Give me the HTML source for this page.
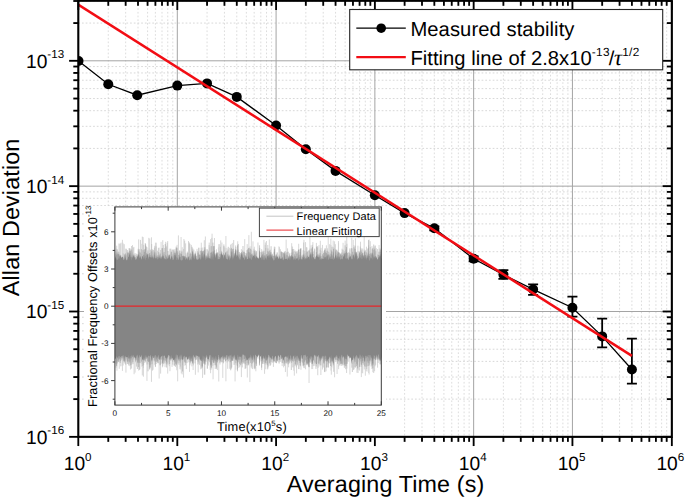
<!DOCTYPE html>
<html><head><meta charset="utf-8"><title>Allan Deviation</title>
<style>html,body{margin:0;padding:0;background:#fff;overflow:hidden}svg{display:block}text{font-family:"Liberation Sans",sans-serif;fill:#000;text-rendering:geometricPrecision}</style>
</head><body>
<svg width="685" height="498" viewBox="0 0 685 498">
<rect x="0" y="0" width="685" height="498" fill="#fff"/>
<g stroke="#d9d9d9" stroke-width="0.9" stroke-dasharray="1.7 2.0" fill="none">
<line x1="108.27" y1="0.8" x2="108.27" y2="436.85"/>
<line x1="125.66" y1="0.8" x2="125.66" y2="436.85"/>
<line x1="138.00" y1="0.8" x2="138.00" y2="436.85"/>
<line x1="147.57" y1="0.8" x2="147.57" y2="436.85"/>
<line x1="155.40" y1="0.8" x2="155.40" y2="436.85"/>
<line x1="162.01" y1="0.8" x2="162.01" y2="436.85"/>
<line x1="167.74" y1="0.8" x2="167.74" y2="436.85"/>
<line x1="172.79" y1="0.8" x2="172.79" y2="436.85"/>
<line x1="207.05" y1="0.8" x2="207.05" y2="436.85"/>
<line x1="224.44" y1="0.8" x2="224.44" y2="436.85"/>
<line x1="236.78" y1="0.8" x2="236.78" y2="436.85"/>
<line x1="246.35" y1="0.8" x2="246.35" y2="436.85"/>
<line x1="254.18" y1="0.8" x2="254.18" y2="436.85"/>
<line x1="260.79" y1="0.8" x2="260.79" y2="436.85"/>
<line x1="266.52" y1="0.8" x2="266.52" y2="436.85"/>
<line x1="271.57" y1="0.8" x2="271.57" y2="436.85"/>
<line x1="305.83" y1="0.8" x2="305.83" y2="436.85"/>
<line x1="323.22" y1="0.8" x2="323.22" y2="436.85"/>
<line x1="335.56" y1="0.8" x2="335.56" y2="436.85"/>
<line x1="345.13" y1="0.8" x2="345.13" y2="436.85"/>
<line x1="352.96" y1="0.8" x2="352.96" y2="436.85"/>
<line x1="359.57" y1="0.8" x2="359.57" y2="436.85"/>
<line x1="365.30" y1="0.8" x2="365.30" y2="436.85"/>
<line x1="370.35" y1="0.8" x2="370.35" y2="436.85"/>
<line x1="404.61" y1="0.8" x2="404.61" y2="436.85"/>
<line x1="422.00" y1="0.8" x2="422.00" y2="436.85"/>
<line x1="434.34" y1="0.8" x2="434.34" y2="436.85"/>
<line x1="443.91" y1="0.8" x2="443.91" y2="436.85"/>
<line x1="451.74" y1="0.8" x2="451.74" y2="436.85"/>
<line x1="458.35" y1="0.8" x2="458.35" y2="436.85"/>
<line x1="464.08" y1="0.8" x2="464.08" y2="436.85"/>
<line x1="469.13" y1="0.8" x2="469.13" y2="436.85"/>
<line x1="503.39" y1="0.8" x2="503.39" y2="436.85"/>
<line x1="520.78" y1="0.8" x2="520.78" y2="436.85"/>
<line x1="533.12" y1="0.8" x2="533.12" y2="436.85"/>
<line x1="542.69" y1="0.8" x2="542.69" y2="436.85"/>
<line x1="550.52" y1="0.8" x2="550.52" y2="436.85"/>
<line x1="557.13" y1="0.8" x2="557.13" y2="436.85"/>
<line x1="562.86" y1="0.8" x2="562.86" y2="436.85"/>
<line x1="567.91" y1="0.8" x2="567.91" y2="436.85"/>
<line x1="602.17" y1="0.8" x2="602.17" y2="436.85"/>
<line x1="619.56" y1="0.8" x2="619.56" y2="436.85"/>
<line x1="631.90" y1="0.8" x2="631.90" y2="436.85"/>
<line x1="641.47" y1="0.8" x2="641.47" y2="436.85"/>
<line x1="649.30" y1="0.8" x2="649.30" y2="436.85"/>
<line x1="655.91" y1="0.8" x2="655.91" y2="436.85"/>
<line x1="661.64" y1="0.8" x2="661.64" y2="436.85"/>
<line x1="666.69" y1="0.8" x2="666.69" y2="436.85"/>
</g>
<g stroke="#d4d4d4" stroke-width="0.9" stroke-dasharray="1.7 2.0" fill="none">
<line x1="78.3" y1="399.12" x2="671.85" y2="399.12"/>
<line x1="78.3" y1="377.04" x2="671.85" y2="377.04"/>
<line x1="78.3" y1="361.38" x2="671.85" y2="361.38"/>
<line x1="78.3" y1="349.23" x2="671.85" y2="349.23"/>
<line x1="78.3" y1="339.31" x2="671.85" y2="339.31"/>
<line x1="78.3" y1="330.92" x2="671.85" y2="330.92"/>
<line x1="78.3" y1="323.65" x2="671.85" y2="323.65"/>
<line x1="78.3" y1="317.24" x2="671.85" y2="317.24"/>
<line x1="78.3" y1="273.77" x2="671.85" y2="273.77"/>
<line x1="78.3" y1="251.69" x2="671.85" y2="251.69"/>
<line x1="78.3" y1="236.03" x2="671.85" y2="236.03"/>
<line x1="78.3" y1="223.88" x2="671.85" y2="223.88"/>
<line x1="78.3" y1="213.96" x2="671.85" y2="213.96"/>
<line x1="78.3" y1="205.57" x2="671.85" y2="205.57"/>
<line x1="78.3" y1="198.30" x2="671.85" y2="198.30"/>
<line x1="78.3" y1="191.89" x2="671.85" y2="191.89"/>
<line x1="78.3" y1="148.42" x2="671.85" y2="148.42"/>
<line x1="78.3" y1="126.34" x2="671.85" y2="126.34"/>
<line x1="78.3" y1="110.68" x2="671.85" y2="110.68"/>
<line x1="78.3" y1="98.53" x2="671.85" y2="98.53"/>
<line x1="78.3" y1="88.61" x2="671.85" y2="88.61"/>
<line x1="78.3" y1="80.22" x2="671.85" y2="80.22"/>
<line x1="78.3" y1="72.95" x2="671.85" y2="72.95"/>
<line x1="78.3" y1="66.54" x2="671.85" y2="66.54"/>
<line x1="78.3" y1="23.07" x2="671.85" y2="23.07"/>
<line x1="78.3" y1="0.99" x2="671.85" y2="0.99"/>
</g>
<g stroke="#a4a4a4" stroke-width="1" fill="none">
<line x1="177.31" y1="0.8" x2="177.31" y2="436.85"/>
<line x1="276.09" y1="0.8" x2="276.09" y2="436.85"/>
<line x1="374.87" y1="0.8" x2="374.87" y2="436.85"/>
<line x1="473.65" y1="0.8" x2="473.65" y2="436.85"/>
<line x1="572.43" y1="0.8" x2="572.43" y2="436.85"/>
<line x1="78.3" y1="311.50" x2="671.85" y2="311.50"/>
<line x1="78.3" y1="186.15" x2="671.85" y2="186.15"/>
<line x1="78.3" y1="60.80" x2="671.85" y2="60.80"/>
</g>
<rect x="84" y="206.3" width="302" height="230" fill="#fff"/>
<path stroke="#d4d4d4" stroke-width="0.9" fill="none" d="M201.31 242.7V368.6M130.70 254.0V358.8M228.05 254.4V361.9M367.01 248.3V371.6M192.22 253.7V361.3M163.30 245.0V364.2M131.98 250.7V360.0M198.74 247.8V362.9M300.95 256.1V369.8M309.04 250.5V383.0M316.40 242.9V366.5M267.50 250.9V363.3M269.32 239.5V362.5M291.70 243.2V363.0M333.60 254.6V371.8M159.93 254.2V359.8M181.07 237.0V369.6M349.93 248.8V374.5M210.59 239.1V373.2M176.91 255.5V368.3M116.39 248.8V362.0M298.70 243.8V369.0M322.46 244.9V369.5M142.80 252.1V360.2M205.62 256.4V357.7M211.87 237.9V360.7M182.30 251.5V364.9M379.07 245.0V359.9M185.62 243.4V362.5M154.24 254.5V358.2M344.60 254.2V364.5M320.33 240.8V360.9M330.84 238.5V359.4M311.81 255.0V369.1M189.51 255.8V371.9M364.17 233.5V359.4M175.55 254.5V363.6M338.52 243.2V366.8M356.94 253.5V372.8M324.89 248.3V372.2M221.91 242.5V362.6M155.45 242.7V367.1M375.67 251.8V364.9M119.08 243.4V360.1M230.52 244.6V370.2M193.11 255.9V370.0M150.11 249.3V362.3M355.48 238.3V367.6M254.34 246.7V367.8M161.08 241.9V360.1M252.97 241.3V363.2M181.30 253.9V373.4M317.15 248.0V362.9M251.33 253.0V367.2M365.36 250.6V375.7M263.91 239.9V363.9M232.73 242.9V360.7M353.55 248.3V369.8M349.78 250.2V359.0M244.72 239.1V358.8M252.24 253.3V362.9M120.47 243.5V361.0M251.36 231.8V368.3M143.13 256.3V360.3M149.71 238.5V367.3M154.97 246.0V364.2M298.09 253.4V359.3M328.21 231.1V366.9M205.38 236.5V364.6M255.25 256.3V364.4M198.17 251.3V372.4M162.55 255.6V367.3M261.66 252.7V367.5M332.81 246.7V362.2M249.88 246.5V382.1M303.01 250.4V366.3M134.08 256.2V374.2M346.51 253.0V364.3M237.33 251.1V366.1M373.63 249.9V359.7M210.01 247.5V357.7M168.68 255.7V362.1M126.37 248.8V358.8M255.85 256.6V371.3M218.76 244.2V381.5M286.14 239.6V362.5M310.21 254.7V362.4M337.06 250.7V374.0M296.68 252.8V364.0M143.17 250.5V367.9M296.08 255.8V357.7M248.89 235.1V360.7M135.07 255.1V372.6M374.46 247.5V358.0M319.01 245.1V366.6M312.70 251.9V369.0M293.78 251.6V370.7M238.71 252.0V358.6M375.09 255.0V358.3M372.43 249.6V360.0M171.26 252.1V360.2M150.52 251.9V367.7M176.76 248.0V364.1M235.02 255.0V362.5M338.47 241.1V357.8M361.35 252.0V377.1M219.65 244.2V357.8M188.38 252.5V358.9M363.79 256.6V365.0M214.46 238.0V362.9M357.91 245.7V370.1M235.05 256.4V381.4M149.11 248.2V359.1M374.60 255.7V371.2M220.04 253.9V362.5M247.32 252.8V377.5M152.38 255.2V364.1M183.92 239.0V365.9M225.23 247.7V362.1M372.32 248.9V365.5M172.66 255.7V364.6M368.67 245.3V373.0M353.20 240.0V359.7M334.58 241.3V377.3M156.30 242.7V359.6M287.24 255.6V376.6M177.07 244.9V364.1M182.18 247.2V374.4M270.12 251.6V365.3M237.66 243.7V361.1M177.65 256.2V381.3M121.09 242.7V357.8M292.55 246.9V360.7M296.59 251.3V373.4M169.81 248.7V359.2M174.12 256.1V365.4M165.05 255.0V367.2M154.18 251.6V361.7M129.07 248.0V361.1M309.91 235.1V358.0M363.87 256.5V360.0M214.60 250.7V362.6M369.08 239.5V374.5M333.51 247.0V366.6M359.52 253.5V370.5M330.92 255.6V360.3M183.56 256.3V377.6M369.66 251.2V362.5M188.51 241.0V358.0M365.83 249.9V358.7M368.66 251.3V362.3M361.80 249.7V372.9M320.56 250.1V362.8M323.07 251.2V360.6M132.49 245.1V360.2M349.95 248.2V358.2M303.82 250.2V359.9M294.34 256.4V375.7M338.64 253.3V369.2M168.20 256.5V364.6M268.89 252.3V365.9M176.75 251.7V370.3M241.40 249.1V377.1M146.96 247.3V380.9M214.17 249.8V365.2M366.48 246.7V365.4M213.23 252.6V362.5M288.38 256.2V359.0M164.47 254.2V363.5M132.10 249.1V363.2M139.51 249.2V369.9M197.00 248.9V360.0M225.91 236.0V381.3M308.67 256.3V358.6M333.19 240.6V368.4M119.24 244.0V368.8M213.80 251.4V357.8M361.11 248.2V364.5M167.71 241.0V373.6M129.48 248.4V361.8M334.30 247.9V371.5M340.09 253.8V362.9M252.85 253.1V360.8M353.62 245.0V370.1M146.57 247.1V364.5M226.87 248.1V362.5M231.73 243.8V359.6M318.10 254.7V367.8M143.74 244.8V364.8M126.13 254.1V360.6M251.15 246.2V361.3M151.47 237.3V381.9M166.75 245.8V358.9M159.15 247.6V378.5M157.47 250.7V362.2M248.69 251.0V360.7M200.05 250.9V359.0M295.82 252.1V361.1M256.26 250.8V364.3M269.36 253.4V360.6M220.01 254.4V364.6M210.98 255.7V367.7M128.13 253.6V364.1M270.91 252.1V364.6M278.92 246.4V362.3M175.66 251.5V359.3M210.16 254.6V369.8M281.02 251.7V358.4M154.96 245.7V365.2M222.06 256.5V359.1M208.35 250.5V365.6M181.30 254.3V359.2M178.42 235.4V363.5M153.09 252.6V369.8M331.33 253.0V374.7M323.26 256.4V358.7M238.87 256.1V367.9M177.00 248.4V359.7M339.82 254.9V364.8M324.71 249.4V358.7M172.93 255.4V358.8M312.87 242.1V362.9M202.56 255.2V377.9M291.99 246.2V359.0M343.06 242.8V363.4M171.60 253.9V360.3M122.45 239.8V370.9M122.93 242.8V361.4M310.99 245.2V362.7M332.98 253.9V359.8M366.11 251.7V371.1M330.97 245.0V370.6M141.83 243.8V366.7M227.85 249.5V358.6M213.05 246.3V379.3M279.51 247.2V359.5M207.41 253.4V368.7M139.44 251.9V362.8M375.02 245.8V358.0M164.31 248.0V358.0M365.99 255.2V364.0M144.50 254.1V360.5M324.31 250.5V363.9M351.79 237.6V367.7M354.66 247.5V357.7M237.72 241.3V360.7M207.86 254.1V362.4M312.37 251.8V366.4M148.78 237.8V362.2M195.38 251.4V374.8M181.06 251.4V367.7M165.57 241.8V360.0M142.30 236.6V375.4M230.82 252.2V370.2M218.44 247.4V359.6M248.23 249.6V365.3M222.79 255.4V377.9M314.26 250.7V360.8M320.89 251.0V375.0M235.86 246.9V369.7"/>
<path stroke="#b4b4b4" stroke-width="0.55" fill="none" d="M304.71 254.3V360.2M280.39 249.2V361.9M289.13 256.6V363.1M125.43 254.0V357.5M253.20 250.7V361.7M251.34 249.6V366.3M367.08 255.3V366.5M147.81 251.5V357.0M221.46 250.8V357.0M208.82 257.4V361.3M255.29 255.5V368.5M149.64 255.8V368.7M264.58 255.2V373.8M332.76 254.7V363.4M148.54 254.6V361.9M215.21 257.7V369.0M189.99 257.7V362.2M284.57 254.3V361.9M130.46 250.9V369.5M336.10 250.0V357.3M181.71 254.8V358.7M207.32 249.4V368.5M351.99 248.6V363.9M324.61 255.4V360.3M312.35 244.8V361.7M177.50 252.7V362.5M153.66 249.8V356.9M117.05 253.7V362.9M338.55 252.8V361.4M284.50 256.8V357.7M362.70 248.5V373.3M353.69 247.2V358.7M344.16 252.7V362.2M171.27 251.3V359.2M193.09 254.6V362.5M249.81 248.0V358.0M199.52 255.1V365.1M125.94 255.4V372.6M116.95 252.2V370.7M324.87 249.9V361.5M300.26 249.4V362.3M236.91 257.6V365.3M358.08 254.2V361.8M264.59 257.5V362.2M229.69 247.8V368.8M125.76 248.7V364.9M233.88 251.1V357.0M375.80 250.9V357.5M171.68 252.1V357.4M371.96 246.1V369.0M179.65 257.4V360.8M304.82 251.1V365.1M303.67 242.5V360.3M305.79 256.7V356.5M136.46 253.7V366.6M244.47 251.8V358.8M295.08 250.4V366.0M282.55 252.0V359.7M323.70 252.7V358.7M302.09 255.0V361.8M336.09 253.1V359.9M215.35 254.2V364.9M190.55 252.5V356.5M332.03 256.3V357.7M345.63 252.9V358.8M297.14 252.4V359.7M327.09 254.4V367.2M276.49 254.5V363.3M314.80 255.9V363.7M320.39 256.9V365.3M253.91 248.8V357.8M163.29 255.9V362.6M252.67 256.6V358.1M143.49 249.8V365.3M206.91 249.1V356.6M244.47 253.0V358.6M366.69 256.5V369.0M125.36 256.5V360.5M263.34 252.6V361.9M132.35 252.2V360.4M183.61 248.9V360.3M219.71 254.0V357.7M174.19 252.8V357.7M355.55 256.7V358.2M287.06 255.5V356.6M364.80 255.3V361.6M143.30 255.5V361.1M160.07 257.6V365.5M167.12 242.6V359.9M345.51 255.0V358.8M361.98 252.6V364.4M333.90 248.3V357.8M130.37 255.9V364.9M186.05 254.5V358.5M204.15 253.9V363.3M145.62 255.5V356.7M171.38 252.3V357.2M212.05 233.7V357.8M192.17 256.0V357.8M375.22 245.5V357.7M115.81 253.7V363.7M357.52 256.1V365.1M319.93 256.8V360.8M276.93 252.4V356.6M303.28 254.4V364.8M309.91 248.7V362.4M204.33 250.4V374.6M241.89 254.1V360.3M212.80 254.4V365.9M233.70 254.4V356.8M345.17 253.2V366.1M131.56 246.0V368.6M256.20 256.5V356.7M163.74 253.7V360.3M300.95 257.4V357.6M254.19 256.9V359.5M127.30 252.1V362.0M147.71 254.8V358.5M154.40 247.7V361.4M364.32 252.4V361.0M220.38 246.8V360.7M204.30 240.2V364.0M331.78 256.5V358.3M363.46 257.8V363.6M256.28 251.3V360.5M372.85 255.2V372.2M350.19 256.5V357.6M295.49 256.6V364.9M181.85 250.6V357.3M196.42 255.8V359.2M251.76 257.0V364.0M148.21 254.0V360.6M179.95 250.5V360.9M266.74 255.2V360.1M260.86 252.0V361.4M174.15 251.2V359.6M344.21 257.2V365.1M377.58 254.5V367.7M346.71 255.6V357.3M310.63 254.1V359.5M156.34 254.5V361.9M341.06 254.3V363.8M317.07 246.0V358.3M149.10 257.4V356.9M247.54 249.2V358.5M347.11 252.6V360.6M307.34 256.0V363.0M200.82 254.8V369.3M164.23 256.6V360.0M138.65 252.5V359.3M369.95 255.8V363.7M265.35 242.5V356.7M380.46 249.7V357.3M210.31 252.6V360.0M254.81 252.5V360.3M267.77 245.0V368.5M281.19 251.6V356.6M160.64 250.0V373.6M144.65 249.6V362.8M351.19 254.3V358.3M249.40 256.2V360.4M209.11 245.1V356.8M196.77 257.6V357.0M270.99 255.6V360.3M185.95 252.8V363.1M224.49 255.0V359.2M141.89 253.9V363.7M329.53 256.8V356.8M305.33 255.3V359.7M355.36 252.3V359.5M129.82 250.9V362.1M280.02 257.8V358.5M198.91 247.7V363.9M370.28 241.2V356.9M306.12 256.8V362.2M325.86 257.7V360.6M373.34 255.6V364.9M217.71 255.8V357.9M208.59 257.7V360.9M124.57 254.6V361.8M139.90 256.2V369.3M337.43 256.5V360.2M215.40 253.3V357.6M175.66 254.4V357.5M354.24 252.3V359.8M171.75 255.4V358.9M187.12 256.9V363.1M197.85 255.6V358.3M200.57 256.1V359.2M248.20 257.1V358.8M148.80 256.7V361.9M321.14 247.8V365.5M123.15 253.5V365.5M290.35 256.2V361.3M282.32 256.4V359.5M304.56 256.0V356.9M195.80 256.4V357.7M163.02 253.1V363.9M230.82 249.1V362.2M191.35 244.9V361.8M144.83 256.6V360.9M138.18 255.5V362.8M189.98 243.9V365.3M298.99 256.9V369.2M129.72 255.5V363.3M149.20 257.7V358.5M184.67 240.6V361.6M181.62 251.9V358.8M197.78 250.9V364.5M179.50 250.5V357.1M194.81 255.0V358.9M331.87 246.8V359.9M274.31 246.6V359.2M192.15 254.9V360.0M167.65 255.6V363.5M239.78 255.1V366.9M314.62 248.5V361.9M144.20 250.6V356.9M117.51 249.3V361.2M288.63 257.8V367.3M338.29 256.6V360.6M361.43 252.0V366.8M202.06 252.7V368.1M261.68 249.1V370.1M282.15 253.3V366.1M246.61 253.8V356.4M136.61 256.3V360.2M139.11 250.7V358.2M116.04 250.6V367.7M190.53 253.5V363.4M231.82 251.4V367.4M193.85 249.6V359.5M137.89 254.5V363.2M345.16 240.6V359.2M131.24 253.7V364.8M368.37 248.1V357.6M350.38 253.5V357.2M137.93 254.3V362.0M256.06 251.5V359.1M351.68 254.7V357.4M140.52 252.7V357.4M175.47 254.8V357.9M136.61 255.6V357.9M261.53 255.3V367.6M306.96 247.5V364.1M370.28 247.0V361.0M130.59 252.9V363.0M194.96 255.9V363.4M346.94 243.8V362.3M313.29 251.5V366.1M147.90 250.1V364.4M126.85 255.4V358.3M145.30 248.7V361.0M233.96 253.1V364.9M327.96 254.4V364.4M216.45 249.3V367.4M329.96 256.8V356.8M248.57 247.9V365.2M295.78 251.8V361.3M219.79 251.3V363.1M172.75 249.4V362.0M239.54 251.9V363.9M203.95 250.3V358.5M293.51 257.1V361.8M266.42 241.0V363.6M320.05 249.7V364.9M211.69 255.4V368.3M296.26 254.0V367.3M284.01 252.8V363.4M204.86 248.8V374.7M179.95 257.2V369.2M235.65 249.5V359.4M132.92 256.0V362.0M364.28 249.6V369.4M162.77 240.2V366.2M229.05 256.1V358.3M188.57 257.8V357.9M302.39 256.5V363.2M344.80 255.1V360.0M274.93 246.9V362.4M151.60 254.6V364.3M360.42 256.4V362.3M222.95 255.2V362.0M127.38 253.5V360.8M183.56 256.7V356.7M377.59 249.0V359.7M140.12 255.7V359.6M331.50 250.3V360.4M289.89 252.9V360.1M304.26 256.9V368.2M374.89 252.6V358.0M150.32 250.1V356.9M211.58 252.9V356.7M122.72 256.2V358.2M163.59 251.8V358.8M311.25 248.5V358.3M376.21 248.1V356.5M237.50 251.2V369.6M132.68 253.6V361.9M265.15 244.9V364.6M174.82 257.8V361.7M169.27 257.3V366.2M172.83 254.2V358.1M186.29 257.7V369.1M244.26 254.7V359.0M235.63 245.4V363.2M211.01 255.3V369.8M379.53 257.4V357.9M117.80 254.5V358.5M160.12 256.6V359.1M305.56 242.1V369.3M298.42 250.0V358.3M143.15 237.1V359.0M147.30 254.2V356.7M297.34 251.2V365.4M209.21 242.6V356.8M372.27 249.6V363.8M185.59 256.0V357.3M263.14 257.2V357.2M259.78 247.9V359.6M305.94 253.0V360.0M218.11 252.6V361.0M116.69 245.7V366.2M215.42 257.6V360.9M323.52 256.0V357.6M286.94 252.2V363.8M341.98 248.7V357.0M282.50 257.6V363.1M255.07 250.1V363.1M259.54 256.3V365.7M241.00 256.4V364.6M153.04 250.3V360.1M331.33 257.5V360.6M285.42 251.1V372.0M336.31 256.4V359.6M142.60 250.2V366.1M138.67 239.4V370.6M242.35 254.4V367.4M212.76 252.9V357.1M216.53 253.3V356.9M162.69 256.8V361.8M336.85 249.7V361.7M227.69 255.4V368.8M212.82 256.5V362.0M330.66 253.8V361.8M166.19 247.3V358.3M202.80 247.5V361.3M247.20 244.1V363.1M238.05 254.1V362.4M232.12 249.7V356.9M311.96 256.2V357.6M319.61 257.4V359.8M332.42 255.5V358.2M129.91 253.3V366.2M298.83 250.0V360.9M346.89 254.1V368.6M188.25 257.4V362.3M262.89 250.7V356.9M345.52 253.5V369.2M129.14 251.4V357.9M270.35 249.7V365.6M263.01 252.2V358.3M265.35 255.4V361.3M304.02 254.9V365.1M233.46 256.1V358.1M128.30 256.1V358.4M360.29 246.5V361.0M294.57 256.5V360.9M359.08 257.0V359.5M367.85 249.2V361.5M297.48 256.5V364.6M193.29 256.9V365.4M156.20 252.7V359.6M327.61 248.3V357.3M174.63 254.9V357.3M229.47 256.4V359.5M360.53 241.7V356.8M207.72 257.8V364.4M244.05 251.8V363.4M152.41 255.9V370.7M360.88 248.8V358.3M366.13 256.6V358.2M181.01 257.6V360.7M133.74 255.0V357.5M273.49 256.1V356.8M287.09 251.8V363.0M291.43 255.7V360.0M339.01 252.4V362.0M348.78 251.9V361.8M239.55 253.5V363.7M167.81 254.1V359.0M346.78 236.5V356.6M325.40 248.4V360.9M156.11 257.7V358.1M192.84 255.6V358.2M273.41 255.6V366.9M274.44 255.9V356.6M331.67 251.0V366.8M118.16 251.3V359.0M180.33 256.8V366.6M152.58 256.3V361.0M380.18 255.8V364.0M356.49 257.8V366.1M339.92 257.2V359.3M158.39 247.9V358.6M335.33 244.2V362.1M328.36 251.7V360.3M346.59 252.6V373.0M146.07 246.1V358.8M176.94 255.4V363.6M356.50 253.6V366.3M326.09 251.2V371.3M138.43 250.4V367.0M337.42 257.7V357.9M331.07 249.7V361.0M172.05 249.9V366.9M138.67 256.4V366.9M329.67 244.2V363.5M187.41 251.6V358.1M277.38 252.5V360.6M249.89 253.4V356.7M255.32 253.6V356.4M330.28 257.8V362.8M344.31 251.2V357.0M292.27 249.4V360.8M211.40 252.7V364.6M294.99 251.2V360.8M130.43 252.6V365.3M314.79 249.3V365.8M151.69 244.1V360.6M268.49 251.3V358.4M189.90 257.4V362.1M375.10 250.5V366.3M371.08 255.2V366.5M268.06 252.3V367.2M252.35 254.9V359.2M198.16 252.4V358.3M370.84 255.6V361.8M200.53 254.8V357.7M217.69 252.6V357.6M234.88 252.8V364.7M155.69 257.5V364.1M315.20 256.8V362.8M191.89 254.2V366.4M265.76 248.0V369.3M133.86 246.9V359.8M329.84 253.4V360.2M283.67 253.6V367.4M312.49 254.1V362.1M164.63 252.0V362.5M354.74 253.7V361.0M248.67 251.8V364.5M267.68 255.9V369.4M155.45 252.4V366.5M354.03 257.3V369.1M150.17 254.8V366.6M133.18 247.7V364.1M174.76 249.3V362.1M210.84 257.0V358.9M116.21 255.3V359.1M233.68 240.0V360.6M174.92 253.6V360.9M173.16 256.6V360.9M257.95 242.5V358.7M132.05 250.3V364.4M251.31 253.7V359.0M328.89 251.9V357.9M242.22 252.8V362.0M236.06 255.4V360.1M166.88 257.1V364.6M302.21 256.1V361.5M373.73 257.6V373.0M306.40 247.1V358.2M282.68 257.3V362.8M378.63 257.1V358.3M354.07 255.3V363.5M156.17 256.5V364.0M326.39 245.3V358.3M264.94 253.2V363.4M303.93 239.8V362.9M217.33 252.9V370.1M270.77 257.2V357.1M238.46 244.1V360.3M201.19 247.8V366.4M169.94 257.2V371.2M272.33 254.6V359.7M284.32 255.9V363.5M129.58 251.1V357.7M178.99 251.7V364.9M356.74 255.8V357.9M176.05 248.5V363.9M312.27 254.9V357.1M125.41 253.0V357.9M293.75 249.0V360.5M156.05 246.4V357.7M303.87 253.1V367.8M143.40 254.5V376.7M262.95 254.3V363.7M327.65 255.8V357.5M220.73 240.4V357.0M236.94 250.7V363.3M144.62 249.4V357.7M309.23 250.1V367.1M195.70 257.5V360.3M319.49 255.1V356.5M274.33 250.4V357.4M287.56 248.3V362.0M337.66 257.5V358.1M229.71 254.7V359.4M302.94 257.7V362.2M140.46 239.9V363.2M317.78 246.5V375.2M181.63 256.6V357.2M359.89 252.3V366.7M326.35 254.7V357.1M281.83 252.2V362.7M256.31 252.9V363.3M358.00 251.2V373.0M191.63 256.9V357.0M378.17 254.6V363.0"/>
<path stroke="#8e8e8e" stroke-width="0.45" fill="none" d="M313.44 257.8V360.6M298.87 256.7V360.6M272.30 253.7V362.7M132.28 257.0V356.8M145.28 243.1V357.0M319.66 256.7V358.7M298.44 249.4V359.5M206.23 257.2V357.6M342.39 255.1V364.3M165.75 255.1V358.3M290.92 256.5V359.2M217.03 253.7V362.3M119.24 256.1V358.8M307.23 251.5V363.9M254.22 254.6V359.1M216.43 257.5V360.4M217.34 252.5V362.4M128.73 252.4V365.5M231.72 253.2V360.5M146.58 254.4V356.9M146.72 253.0V358.6M262.65 254.3V358.1M346.43 247.1V359.0M254.70 257.6V359.8M137.37 256.6V369.0M135.07 253.2V357.8M211.24 246.1V367.4M118.19 254.0V361.9M311.97 253.9V357.4M288.24 251.7V364.4M343.00 249.7V365.3M274.12 256.0V357.8M231.90 255.5V359.2M364.82 251.0V361.3M177.21 251.2V357.4M378.74 255.0V359.1M380.79 254.0V357.5M223.39 253.3V363.3M158.35 257.8V356.5M235.92 249.7V359.8M147.31 254.8V357.2M269.72 256.4V357.7M270.83 252.4V358.1M343.77 253.6V357.6M129.00 255.6V357.8M192.05 246.8V358.7M340.75 255.0V364.0M180.04 253.8V362.6M370.91 257.1V358.5M163.51 256.3V360.4M254.44 256.9V358.4M240.58 253.1V365.3M295.36 255.8V364.2M323.98 257.2V362.3M223.96 246.2V359.3M210.83 252.9V364.6M172.39 257.7V357.9M227.06 251.3V359.9M209.77 256.2V362.2M119.98 256.4V359.4M318.96 253.7V363.3M371.96 254.7V365.4M333.51 249.1V362.9M167.97 251.0V357.1M133.91 254.4V356.5M176.38 257.0V365.2M145.64 244.3V362.3M254.03 255.4V361.7M129.90 255.0V358.1M300.32 257.0V366.3M245.92 253.0V368.3M156.18 255.9V361.6M327.02 257.0V358.8M303.28 254.6V365.7M291.51 255.0V357.6M143.96 255.1V359.5M256.91 257.6V357.8M192.54 252.4V363.0M169.65 254.8V364.0M175.41 256.4V366.8M326.28 256.1V360.9M277.11 256.3V357.4M362.75 253.4V360.7M249.91 252.6V357.1M321.25 256.2V357.7M182.39 255.9V359.9M304.50 257.2V361.8M363.35 255.9V358.2M189.29 242.5V360.1M239.03 254.4V359.6M320.01 255.7V357.3M371.21 253.5V357.9M143.60 254.8V357.9M160.22 253.5V364.8M148.04 257.2V371.3M312.02 248.4V364.0M275.74 256.3V362.5M149.73 253.0V369.6M205.30 257.8V360.7M154.75 254.8V360.3M206.03 255.6V361.8M267.99 248.4V357.0M368.16 252.8V366.0M212.47 254.2V360.1M175.63 253.0V359.5M315.98 257.4V368.9M308.67 257.5V366.6M216.41 256.2V358.9M333.25 251.8V365.3M152.24 249.3V359.9M128.05 253.0V361.5M323.24 255.6V367.5M181.53 253.8V359.3M175.62 256.0V357.3M238.03 249.6V362.2M283.24 252.9V360.3M198.04 252.7V361.6M335.54 251.5V357.2M292.07 256.5V361.5M300.13 249.1V365.2M230.14 256.6V362.2M333.20 256.6V361.5M328.24 255.6V367.8M216.39 254.6V368.9M202.69 257.4V360.0M292.84 249.2V367.4M326.51 252.9V367.6M345.97 249.7V366.1M248.74 248.2V363.5M363.01 255.0V357.6M227.87 254.4V359.0M251.61 255.4V356.9M305.71 257.8V360.5M161.90 248.2V363.7M306.74 257.8V365.2M337.97 256.2V357.3M138.23 248.8V360.6M237.47 245.4V371.3M180.40 256.8V359.6M195.83 255.8V359.8M199.17 254.3V356.5M373.73 244.5V357.6M272.53 255.8V359.1M372.13 253.6V359.4M298.75 255.3V358.4M117.00 252.6V363.7M359.71 253.0V359.9M291.32 256.6V370.0M341.48 255.9V363.6M366.25 252.4V358.1M353.68 257.4V357.7M246.96 250.1V365.4M362.15 253.8V361.3M277.09 256.9V360.6M211.68 251.9V360.0M333.48 253.3V363.6M131.10 256.8V359.4M185.37 256.9V365.3M261.62 255.7V357.6M166.54 257.7V367.5M347.15 257.7V363.9M130.16 257.0V357.2M145.14 256.0V359.4M372.81 247.9V368.3M182.58 256.2V371.5M161.81 256.5V359.3M130.95 249.6V358.0M325.37 252.4V359.2M204.80 247.2V364.6M264.25 255.7V359.1M116.52 254.7V365.7M327.27 250.7V360.7M223.87 244.4V359.9M199.32 254.7V359.5M324.63 250.4V371.8M316.51 257.2V364.1M245.11 255.9V368.9M316.35 252.2V364.0M271.08 246.2V362.1M142.63 257.4V359.1M308.23 257.5V365.4M246.47 257.2V360.2M213.71 246.1V362.9M267.16 254.5V365.2M221.87 251.8V358.4M153.78 257.0V358.1M311.95 252.4V362.2M331.75 251.6V357.7M352.54 251.7V357.8M308.96 250.7V367.2M331.68 255.2V358.9M158.80 252.1V359.1M357.69 255.7V368.4M320.12 253.2V361.5M141.42 249.2V361.6M176.93 247.7V358.8M157.93 255.0V362.9M151.71 251.4V357.6M262.45 257.3V363.8M212.96 242.6V360.4M372.09 252.6V361.1M169.63 254.6V359.6M367.15 255.8V361.3M259.58 252.4V362.7M195.05 253.7V357.2M117.91 254.3V357.7M337.56 253.7V363.8M295.43 257.8V356.7M372.68 255.1V363.1M355.01 249.0V362.0M162.91 256.6V358.7M349.16 252.9V356.9M300.54 248.3V360.7M313.50 257.4V359.6M368.56 240.1V357.1M158.09 256.8V363.4M183.05 255.8V359.0M328.01 254.3V362.0M224.91 256.9V356.7M178.18 257.7V360.6M139.89 252.4V357.2M174.35 252.7V365.7M360.62 255.0V358.6M203.38 251.0V360.7M251.33 254.0V358.0M201.43 250.5V361.1M127.36 250.1V363.9M281.35 251.6V358.8M312.51 256.5V362.9M230.38 256.5V358.5M174.46 254.9V358.6M379.27 255.6V360.2M221.74 255.6V361.9M259.52 245.3V357.2M245.03 255.0V364.2M192.84 248.5V360.6M243.76 251.9V362.5M374.61 249.3V358.9M200.83 250.9V358.9M300.02 251.9V363.0M231.62 255.4V356.5M284.42 251.5V365.8M216.38 257.6V356.8M347.61 253.0V356.5M345.07 245.3V364.2M265.59 255.6V362.8M214.55 250.4V356.9M248.87 252.0V356.6M256.55 256.3V365.9M252.72 257.8V369.1M192.43 250.7V361.5M309.48 256.4V362.4M210.77 257.6V365.5M323.63 253.1V363.3M187.75 252.9V358.4M254.68 250.8V369.2M204.78 250.1V362.7M213.38 257.0V362.8M340.75 253.8V360.9M374.05 256.5V359.4M341.79 252.5V365.9M166.38 257.1V361.8M232.04 251.8V360.9M218.90 257.2V357.0M203.73 254.5V363.5M294.41 254.3V359.4M356.80 257.1V363.8M124.97 254.2V363.6M147.79 256.7V361.1M354.95 245.6V367.3M179.99 253.2V359.2M330.56 256.7V366.0M129.74 254.9V359.2M338.98 252.6V358.1M184.35 257.7V362.4M237.97 257.8V356.8M213.29 251.8V359.2M252.38 254.5V356.8M214.05 255.4V359.3M204.40 252.4V361.2M369.01 256.0V358.4M202.30 252.7V365.9M369.45 254.2V360.8M291.87 252.5V358.3M236.75 255.2V361.1M173.66 249.6V358.5M240.75 256.7V359.7M184.01 256.0V358.8M250.63 255.1V362.9M279.07 254.7V360.0M279.10 256.5V363.6M335.79 249.3V360.2M372.88 254.3V363.7M124.12 244.2V362.4M339.95 253.2V365.8M351.75 248.1V360.3M344.36 254.4V367.8M204.69 255.9V357.3M157.71 256.6V360.8M346.39 251.8V356.8M361.38 254.5V364.8M361.00 250.6V358.9M301.04 248.3V358.6M369.31 256.0V365.5M299.90 254.7V358.8M213.10 251.3V356.8M313.21 254.1V360.1M309.77 254.7V361.2M359.27 251.3V357.6M307.19 251.7V364.6M284.12 252.4V357.0M231.47 247.9V356.5M261.95 251.6V361.1M192.87 251.5V363.9M231.28 251.5V368.6M224.71 254.7V356.6M218.35 255.7V359.3M241.47 252.0V357.8M119.74 254.5V358.0M266.68 254.0V357.3M308.37 256.8V363.6M242.77 250.5V359.6M261.56 257.6V359.0M128.71 257.8V358.8M245.27 257.8V361.1M324.72 257.4V359.1M202.76 251.1V361.8M170.81 248.7V358.6M219.54 257.0V358.4M232.35 249.0V360.1M162.62 248.1V362.9M263.96 250.8V358.2M344.97 253.1V359.0M118.83 252.3V362.1M150.09 255.1V364.8M285.98 253.3V363.2M201.62 253.7V359.3M191.51 256.6V361.0M146.00 257.6V358.5M307.61 255.5V359.0M225.51 253.0V361.1M217.05 254.2V358.0M286.94 255.1V361.3M144.39 252.0V358.0M232.29 257.5V360.9M228.28 246.8V360.9M225.85 251.9V357.7M270.98 257.3V358.4M195.39 257.6V357.5M241.03 254.7V356.7M139.35 255.5V362.8M226.02 257.8V360.6M312.43 246.9V364.1M344.59 256.2V357.6M306.80 256.7V362.9M190.10 253.8V358.8M138.02 255.8V362.6M250.43 248.9V356.6M352.37 255.5V372.0M365.83 257.4V366.6M380.24 251.7V364.6M344.60 255.9V360.3M238.15 257.3V358.9M241.63 252.8V363.3M370.32 253.3V360.1M311.96 254.5V361.0M165.21 244.1V360.9M238.96 255.6V359.9M364.59 252.1V366.4M241.54 255.8V361.4M339.64 256.2V359.4M171.61 256.5V358.6M174.70 255.0V360.5M186.35 257.2V357.0M118.66 254.4V360.6M175.97 257.8V357.7M269.88 253.6V356.5M214.17 246.2V357.2M120.89 255.4V366.3M331.19 253.9V362.2M166.11 256.0V363.5M274.44 248.8V361.2M361.74 256.1V358.3M362.66 252.8V362.9M233.61 248.7V358.7M279.88 256.3V360.3M149.21 253.6V361.3M380.03 248.5V359.7M373.41 256.8V358.4M242.99 246.0V363.7M322.41 254.3V358.5M220.23 253.8V361.7M379.98 256.4V361.2M130.03 248.4V361.4M337.59 251.5V360.2M184.80 256.3V357.8M245.97 255.7V357.9M274.18 252.2V361.4M316.76 246.9V359.7M359.67 252.4V366.9M215.93 255.2V365.5M259.53 251.3V359.6M378.83 251.7V357.5M372.59 253.3V360.9M302.53 257.0V356.7M131.14 257.5V357.8M178.54 254.9V359.1M276.15 254.5V363.0M368.09 257.7V363.1M328.69 254.6V362.8M120.24 257.0V362.9M338.62 252.2V360.7M202.82 256.2V358.9M269.46 250.6V363.4M333.21 256.2V359.9M176.15 246.6V356.5M318.87 256.7V364.2M202.36 251.5V367.3M297.07 253.6V362.3M259.46 250.5V364.7"/>
<polygon fill="#858585" points="114.9,258.8 115.5,255.9 116.2,260.2 116.8,258.1 117.4,260.0 118.1,259.7 118.7,257.9 119.3,259.0 120.0,255.0 120.6,255.9 121.2,258.1 121.9,256.7 122.5,257.1 123.1,257.2 123.8,260.2 124.4,259.1 125.0,254.9 125.7,258.0 126.3,259.8 127.0,260.4 127.6,259.2 128.2,257.1 128.9,257.0 129.5,252.8 130.1,256.0 130.8,258.7 131.4,260.5 132.0,254.2 132.7,258.4 133.3,256.3 133.9,255.3 134.6,257.8 135.2,256.8 135.8,260.1 136.5,258.9 137.1,257.5 137.7,256.6 138.4,253.7 139.0,256.8 139.6,258.6 140.3,255.9 140.9,257.9 141.5,259.7 142.2,256.6 142.8,255.7 143.4,259.2 144.1,256.8 144.7,258.4 145.3,260.4 146.0,258.0 146.6,257.8 147.2,253.6 147.9,255.6 148.5,259.4 149.2,256.5 149.8,257.1 150.4,256.7 151.1,258.3 151.7,256.4 152.3,256.7 153.0,258.0 153.6,258.8 154.2,250.8 154.9,258.2 155.5,258.5 156.1,256.9 156.8,258.5 157.4,259.8 158.0,256.1 158.7,259.2 159.3,257.8 159.9,254.5 160.6,259.2 161.2,256.3 161.8,259.1 162.5,256.4 163.1,254.6 163.7,258.4 164.4,258.0 165.0,259.6 165.6,258.9 166.3,259.8 166.9,258.8 167.5,258.5 168.2,258.3 168.8,255.1 169.4,255.4 170.1,257.9 170.7,259.7 171.4,256.5 172.0,256.2 172.6,260.0 173.3,259.9 173.9,258.8 174.5,256.9 175.2,254.4 175.8,257.0 176.4,260.0 177.1,259.9 177.7,257.0 178.3,260.2 179.0,258.9 179.6,254.6 180.2,259.6 180.9,260.2 181.5,260.4 182.1,260.3 182.8,260.1 183.4,254.9 184.0,259.3 184.7,255.7 185.3,260.2 185.9,259.3 186.6,257.7 187.2,259.9 187.8,257.8 188.5,256.0 189.1,259.6 189.7,260.5 190.4,259.6 191.0,257.8 191.6,260.6 192.3,257.9 192.9,251.7 193.6,257.2 194.2,259.5 194.8,253.4 195.5,253.6 196.1,260.3 196.7,258.2 197.4,260.1 198.0,259.3 198.6,259.4 199.3,257.0 199.9,259.0 200.5,259.7 201.2,256.0 201.8,259.3 202.4,257.3 203.1,255.4 203.7,259.3 204.3,253.6 205.0,254.9 205.6,260.2 206.2,258.8 206.9,255.1 207.5,258.7 208.1,251.1 208.8,258.3 209.4,257.7 210.0,259.0 210.7,258.3 211.3,260.1 211.9,255.3 212.6,258.7 213.2,260.2 213.8,257.5 214.5,253.1 215.1,255.2 215.8,258.6 216.4,252.1 217.0,255.2 217.7,259.6 218.3,259.2 218.9,258.9 219.6,259.3 220.2,258.2 220.8,255.3 221.5,252.2 222.1,255.6 222.7,253.9 223.4,259.1 224.0,256.3 224.6,254.1 225.3,258.8 225.9,251.7 226.5,259.1 227.2,258.9 227.8,260.0 228.4,257.0 229.1,254.9 229.7,260.4 230.3,257.9 231.0,258.6 231.6,254.5 232.2,260.0 232.9,256.2 233.5,258.9 234.1,252.9 234.8,256.7 235.4,248.4 236.0,253.3 236.7,257.3 237.3,255.0 238.0,256.2 238.6,257.8 239.2,259.9 239.9,257.8 240.5,260.3 241.1,255.4 241.8,253.5 242.4,256.1 243.0,258.0 243.7,257.3 244.3,259.8 244.9,259.7 245.6,256.8 246.2,256.4 246.8,259.8 247.5,258.7 248.1,259.3 248.7,255.3 249.4,258.9 250.0,257.5 250.6,258.7 251.3,260.1 251.9,259.6 252.5,256.7 253.2,255.8 253.8,255.8 254.4,257.8 255.1,254.3 255.7,258.8 256.3,257.1 257.0,256.2 257.6,258.2 258.2,257.4 258.9,259.0 259.5,254.7 260.2,257.4 260.8,257.6 261.4,260.5 262.1,254.4 262.7,259.6 263.3,260.0 264.0,255.0 264.6,260.4 265.2,258.4 265.9,257.0 266.5,259.9 267.1,255.8 267.8,256.8 268.4,254.7 269.0,258.6 269.7,255.0 270.3,254.4 270.9,258.4 271.6,253.9 272.2,259.3 272.8,257.3 273.5,260.5 274.1,260.3 274.7,260.1 275.4,257.6 276.0,254.2 276.6,258.1 277.3,256.2 277.9,257.4 278.5,259.2 279.2,256.2 279.8,258.4 280.4,258.7 281.1,258.5 281.7,258.8 282.4,256.9 283.0,260.4 283.6,259.5 284.3,259.0 284.9,253.0 285.5,259.3 286.2,258.8 286.8,258.7 287.4,260.3 288.1,256.9 288.7,259.3 289.3,253.1 290.0,260.5 290.6,255.0 291.2,258.4 291.9,255.5 292.5,256.9 293.1,256.2 293.8,259.9 294.4,257.7 295.0,260.3 295.7,259.6 296.3,257.9 296.9,258.9 297.6,257.4 298.2,260.5 298.8,259.9 299.5,258.9 300.1,258.1 300.7,259.5 301.4,258.4 302.0,260.3 302.6,258.4 303.3,258.1 303.9,254.4 304.6,259.9 305.2,257.7 305.8,259.5 306.5,258.6 307.1,258.2 307.7,258.6 308.4,257.0 309.0,257.1 309.6,260.0 310.3,251.4 310.9,255.6 311.5,259.2 312.2,252.7 312.8,260.5 313.4,256.8 314.1,258.2 314.7,259.3 315.3,259.3 316.0,256.4 316.6,254.9 317.2,257.3 317.9,253.8 318.5,257.3 319.1,257.4 319.8,260.2 320.4,258.6 321.0,259.9 321.7,258.0 322.3,258.8 322.9,258.8 323.6,259.1 324.2,259.0 324.8,257.0 325.5,257.0 326.1,260.1 326.8,256.4 327.4,255.1 328.0,260.1 328.7,259.4 329.3,258.5 329.9,254.4 330.6,258.9 331.2,258.9 331.8,258.8 332.5,258.4 333.1,259.7 333.7,260.2 334.4,258.2 335.0,256.6 335.6,254.0 336.3,258.8 336.9,254.4 337.5,258.0 338.2,259.3 338.8,256.5 339.4,257.2 340.1,259.4 340.7,259.6 341.3,258.5 342.0,259.5 342.6,258.9 343.2,256.2 343.9,256.6 344.5,253.5 345.1,258.9 345.8,258.1 346.4,258.6 347.0,259.5 347.7,257.8 348.3,260.2 349.0,254.3 349.6,258.0 350.2,255.6 350.9,257.2 351.5,258.9 352.1,259.4 352.8,258.6 353.4,253.9 354.0,255.5 354.7,258.9 355.3,254.4 355.9,251.3 356.6,252.6 357.2,259.6 357.8,259.3 358.5,257.5 359.1,259.0 359.7,255.2 360.4,258.7 361.0,256.3 361.6,259.3 362.3,259.1 362.9,254.6 363.5,256.8 364.2,258.8 364.8,254.8 365.4,254.8 366.1,259.9 366.7,258.1 367.3,257.8 368.0,253.5 368.6,258.0 369.2,260.4 369.9,260.4 370.5,257.5 371.2,258.4 371.8,258.0 372.4,260.0 373.1,259.6 373.7,257.6 374.3,256.5 375.0,258.8 375.6,255.7 376.2,256.4 376.9,258.3 377.5,259.8 378.1,258.8 378.8,257.1 379.4,257.6 380.0,255.1 380.7,256.3 381.3,259.1 381.3,357.1 380.7,361.2 380.0,359.0 379.4,358.4 378.8,354.4 378.1,354.5 377.5,360.3 376.9,354.5 376.2,359.8 375.6,360.2 375.0,355.9 374.3,355.4 373.7,355.0 373.1,358.4 372.4,360.0 371.8,356.1 371.2,358.5 370.5,354.9 369.9,355.6 369.2,355.1 368.6,355.0 368.0,354.9 367.3,357.1 366.7,356.7 366.1,355.6 365.4,355.9 364.8,362.6 364.2,359.0 363.5,355.8 362.9,358.2 362.3,354.8 361.6,356.9 361.0,356.5 360.4,354.8 359.7,354.5 359.1,357.5 358.5,359.3 357.8,356.0 357.2,358.5 356.6,354.7 355.9,356.0 355.3,356.9 354.7,358.0 354.0,360.1 353.4,354.9 352.8,360.0 352.1,359.8 351.5,363.6 350.9,356.9 350.2,357.9 349.6,358.1 349.0,355.6 348.3,356.4 347.7,354.5 347.0,354.8 346.4,359.7 345.8,359.0 345.1,355.5 344.5,358.8 343.9,356.9 343.2,355.9 342.6,358.6 342.0,354.5 341.3,355.6 340.7,357.3 340.1,362.0 339.4,355.5 338.8,359.1 338.2,357.9 337.5,356.6 336.9,354.8 336.3,357.1 335.6,356.0 335.0,360.1 334.4,356.8 333.7,360.0 333.1,356.2 332.5,361.7 331.8,360.7 331.2,354.7 330.6,357.7 329.9,358.7 329.3,356.2 328.7,359.0 328.0,358.9 327.4,360.6 326.8,361.9 326.1,355.8 325.5,355.5 324.8,357.4 324.2,355.4 323.6,356.0 322.9,357.1 322.3,355.5 321.7,360.4 321.0,356.0 320.4,361.3 319.8,356.2 319.1,358.3 318.5,354.7 317.9,356.1 317.2,356.9 316.6,356.3 316.0,354.7 315.3,356.8 314.7,355.6 314.1,354.5 313.4,358.3 312.8,356.5 312.2,357.7 311.5,356.2 310.9,355.7 310.3,359.9 309.6,357.2 309.0,358.7 308.4,364.0 307.7,355.8 307.1,356.3 306.5,357.2 305.8,355.8 305.2,354.6 304.6,355.3 303.9,355.0 303.3,355.5 302.6,358.8 302.0,358.9 301.4,354.9 300.7,355.8 300.1,361.6 299.5,360.7 298.8,357.7 298.2,357.4 297.6,355.3 296.9,361.0 296.3,355.5 295.7,358.2 295.0,354.4 294.4,359.1 293.8,356.5 293.1,355.4 292.5,358.8 291.9,360.1 291.2,356.3 290.6,355.2 290.0,364.6 289.3,358.1 288.7,362.3 288.1,354.9 287.4,358.1 286.8,357.6 286.2,356.2 285.5,356.4 284.9,357.4 284.3,356.7 283.6,360.7 283.0,359.2 282.4,356.9 281.7,359.2 281.1,355.2 280.4,354.7 279.8,356.9 279.2,357.1 278.5,355.4 277.9,355.3 277.3,362.1 276.6,359.7 276.0,356.8 275.4,355.8 274.7,357.7 274.1,356.2 273.5,362.9 272.8,356.4 272.2,355.5 271.6,359.8 270.9,357.9 270.3,357.1 269.7,356.6 269.0,354.8 268.4,354.9 267.8,357.6 267.1,359.9 266.5,360.9 265.9,355.0 265.2,360.6 264.6,357.2 264.0,358.7 263.3,355.5 262.7,358.4 262.1,360.6 261.4,355.0 260.8,356.3 260.2,356.8 259.5,354.9 258.9,354.6 258.2,355.9 257.6,357.1 257.0,356.3 256.3,356.1 255.7,355.2 255.1,354.6 254.4,358.4 253.8,356.9 253.2,354.8 252.5,359.5 251.9,360.4 251.3,356.0 250.6,354.6 250.0,360.3 249.4,357.3 248.7,357.9 248.1,358.9 247.5,360.0 246.8,360.5 246.2,358.3 245.6,356.4 244.9,354.8 244.3,356.1 243.7,354.7 243.0,354.5 242.4,354.6 241.8,357.6 241.1,355.7 240.5,357.0 239.9,357.0 239.2,356.2 238.6,357.8 238.0,354.5 237.3,355.8 236.7,359.4 236.0,359.9 235.4,358.9 234.8,354.4 234.1,359.0 233.5,355.3 232.9,357.6 232.2,356.3 231.6,354.5 231.0,354.8 230.3,355.7 229.7,355.2 229.1,358.2 228.4,356.2 227.8,354.7 227.2,360.1 226.5,354.7 225.9,355.8 225.3,357.8 224.6,357.8 224.0,355.0 223.4,358.7 222.7,355.5 222.1,358.8 221.5,356.6 220.8,357.6 220.2,359.5 219.6,360.1 218.9,354.8 218.3,355.3 217.7,360.4 217.0,359.2 216.4,356.8 215.8,355.9 215.1,362.4 214.5,359.9 213.8,355.7 213.2,358.5 212.6,356.2 211.9,359.5 211.3,355.9 210.7,354.7 210.0,355.7 209.4,355.1 208.8,359.7 208.1,359.1 207.5,359.2 206.9,354.4 206.2,357.3 205.6,358.9 205.0,355.5 204.3,357.8 203.7,355.4 203.1,360.1 202.4,354.8 201.8,358.9 201.2,361.2 200.5,360.2 199.9,358.6 199.3,356.2 198.6,356.9 198.0,355.7 197.4,356.1 196.7,356.1 196.1,354.9 195.5,355.4 194.8,357.7 194.2,356.5 193.6,354.6 192.9,357.2 192.3,355.4 191.6,360.0 191.0,355.5 190.4,362.0 189.7,358.8 189.1,355.7 188.5,358.5 187.8,359.7 187.2,359.2 186.6,356.3 185.9,357.5 185.3,356.8 184.7,355.4 184.0,356.5 183.4,356.4 182.8,359.6 182.1,359.8 181.5,354.3 180.9,356.9 180.2,354.4 179.6,356.3 179.0,360.6 178.3,357.5 177.7,355.3 177.1,354.9 176.4,354.4 175.8,354.6 175.2,357.3 174.5,359.4 173.9,360.0 173.3,360.1 172.6,357.4 172.0,359.1 171.4,354.6 170.7,361.4 170.1,356.3 169.4,355.4 168.8,355.2 168.2,355.2 167.5,357.4 166.9,359.0 166.3,357.7 165.6,358.1 165.0,356.5 164.4,355.2 163.7,356.4 163.1,355.6 162.5,355.5 161.8,356.5 161.2,356.2 160.6,357.2 159.9,360.0 159.3,359.3 158.7,354.7 158.0,355.4 157.4,358.3 156.8,356.1 156.1,359.7 155.5,355.0 154.9,355.3 154.2,357.7 153.6,358.3 153.0,355.6 152.3,356.8 151.7,362.1 151.1,357.4 150.4,354.7 149.8,356.3 149.2,356.2 148.5,355.6 147.9,356.1 147.2,357.9 146.6,357.0 146.0,354.7 145.3,355.9 144.7,360.6 144.1,355.1 143.4,360.4 142.8,359.3 142.2,359.9 141.5,354.4 140.9,357.1 140.3,356.8 139.6,354.8 139.0,356.2 138.4,358.6 137.7,355.7 137.1,354.6 136.5,357.0 135.8,362.7 135.2,358.0 134.6,356.6 133.9,359.1 133.3,354.6 132.7,357.6 132.0,354.4 131.4,356.0 130.8,356.5 130.1,355.8 129.5,358.5 128.9,354.8 128.2,358.3 127.6,357.0 127.0,356.9 126.3,357.2 125.7,356.9 125.0,355.5 124.4,360.7 123.8,360.9 123.1,355.0 122.5,356.5 121.9,360.8 121.2,355.7 120.6,357.3 120.0,357.1 119.3,355.8 118.7,356.5 118.1,356.3 117.4,358.4 116.8,356.1 116.2,357.5 115.5,358.8 114.9,359.6"/>
<line x1="114.9" y1="306.2" x2="381.3" y2="306.2" stroke="#e8262a" stroke-width="1.2"/>
<rect x="114.9" y="206.9" width="266.40" height="198.20" fill="none" stroke="#3a3a3a" stroke-width="1"/>
<g stroke="#3a3a3a" stroke-width="1" fill="none">
<line x1="114.90" y1="405.1" x2="114.90" y2="401.3"/>
<line x1="114.90" y1="206.9" x2="114.90" y2="210.70000000000002"/>
<line x1="141.54" y1="405.1" x2="141.54" y2="402.90000000000003"/>
<line x1="141.54" y1="206.9" x2="141.54" y2="209.1"/>
<line x1="168.18" y1="405.1" x2="168.18" y2="401.3"/>
<line x1="168.18" y1="206.9" x2="168.18" y2="210.70000000000002"/>
<line x1="194.82" y1="405.1" x2="194.82" y2="402.90000000000003"/>
<line x1="194.82" y1="206.9" x2="194.82" y2="209.1"/>
<line x1="221.46" y1="405.1" x2="221.46" y2="401.3"/>
<line x1="221.46" y1="206.9" x2="221.46" y2="210.70000000000002"/>
<line x1="248.10" y1="405.1" x2="248.10" y2="402.90000000000003"/>
<line x1="248.10" y1="206.9" x2="248.10" y2="209.1"/>
<line x1="274.74" y1="405.1" x2="274.74" y2="401.3"/>
<line x1="274.74" y1="206.9" x2="274.74" y2="210.70000000000002"/>
<line x1="301.38" y1="405.1" x2="301.38" y2="402.90000000000003"/>
<line x1="301.38" y1="206.9" x2="301.38" y2="209.1"/>
<line x1="328.02" y1="405.1" x2="328.02" y2="401.3"/>
<line x1="328.02" y1="206.9" x2="328.02" y2="210.70000000000002"/>
<line x1="354.66" y1="405.1" x2="354.66" y2="402.90000000000003"/>
<line x1="354.66" y1="206.9" x2="354.66" y2="209.1"/>
<line x1="381.30" y1="405.1" x2="381.30" y2="401.3"/>
<line x1="381.30" y1="206.9" x2="381.30" y2="210.70000000000002"/>
<line x1="114.9" y1="399.20" x2="112.7" y2="399.20"/>
<line x1="114.9" y1="380.60" x2="111.10000000000001" y2="380.60"/>
<line x1="114.9" y1="362.00" x2="112.7" y2="362.00"/>
<line x1="114.9" y1="343.40" x2="111.10000000000001" y2="343.40"/>
<line x1="114.9" y1="324.80" x2="112.7" y2="324.80"/>
<line x1="114.9" y1="306.20" x2="111.10000000000001" y2="306.20"/>
<line x1="114.9" y1="287.60" x2="112.7" y2="287.60"/>
<line x1="114.9" y1="269.00" x2="111.10000000000001" y2="269.00"/>
<line x1="114.9" y1="250.40" x2="112.7" y2="250.40"/>
<line x1="114.9" y1="231.80" x2="111.10000000000001" y2="231.80"/>
<line x1="114.9" y1="213.20" x2="112.7" y2="213.20"/>
</g>
<g font-size="8.2">
<text x="114.90" y="415.9" text-anchor="middle" style="fill:#111">0</text>
<text x="168.18" y="415.9" text-anchor="middle" style="fill:#111">5</text>
<text x="221.46" y="415.9" text-anchor="middle" style="fill:#111">10</text>
<text x="274.74" y="415.9" text-anchor="middle" style="fill:#111">15</text>
<text x="328.02" y="415.9" text-anchor="middle" style="fill:#111">20</text>
<text x="381.30" y="415.9" text-anchor="middle" style="fill:#111">25</text>
<text x="108.6" y="383.50" text-anchor="end" style="fill:#111">-6</text>
<text x="108.6" y="346.30" text-anchor="end" style="fill:#111">-3</text>
<text x="108.6" y="309.10" text-anchor="end" style="fill:#111">0</text>
<text x="108.6" y="271.90" text-anchor="end" style="fill:#111">3</text>
<text x="108.6" y="234.70" text-anchor="end" style="fill:#111">6</text>
</g>
<text x="217.0" y="431.1" font-size="12.8" letter-spacing="0.18">Time(x10<tspan font-size="7.8" dy="-5.2">5</tspan><tspan dy="5.2">s)</tspan></text>
<text transform="translate(96.6 406.9) rotate(-90)" font-size="12.8" letter-spacing="0.05">Fractional Frequency Offsets x10<tspan font-size="7.8" dy="-5.2">-13</tspan></text>
<rect x="259.4" y="208.1" width="119.8" height="28.5" fill="#fff" stroke="#444" stroke-width="1"/>
<line x1="266.4" y1="216.2" x2="293.4" y2="216.2" stroke="#c4c4c4" stroke-width="1"/>
<line x1="266.4" y1="230.1" x2="293.4" y2="230.1" stroke="#e8262a" stroke-width="1"/>
<text x="296.6" y="220.2" font-size="11" letter-spacing="0.08">Frequency Data</text>
<text x="296.6" y="234.8" font-size="11" letter-spacing="0.15">Linear Fitting</text>
<clipPath id="pc"><rect x="78.3" y="0.8" width="593.55" height="436.05"/></clipPath>
<g clip-path="url(#pc)">
<polyline fill="none" stroke="#000" stroke-width="1.3" points="78.53,61.00 108.27,84.30 137.24,95.20 177.31,85.60 207.05,83.40 236.78,96.90 276.09,125.50 305.83,149.20 335.56,170.90 374.87,195.30 404.61,213.10 434.34,228.30 473.65,258.80 503.39,274.60 533.12,289.40 572.43,307.70 602.17,336.40 631.90,369.50"/>
<g stroke="#000" stroke-width="1.8" fill="none">
<path d="M434.34 226.3V230.3M429.34 226.3H439.34M429.34 230.3H439.34"/>
<path d="M473.65 256.3V261.3M468.65 256.3H478.65M468.65 261.3H478.65"/>
<path d="M503.39 270.2V278.8M498.39 270.2H508.39M498.39 278.8H508.39"/>
<path d="M533.12 284.3V294.8M528.12 284.3H538.12M528.12 294.8H538.12"/>
<path d="M572.43 296.7V316.6M567.43 296.7H577.43M567.43 316.6H577.43"/>
<path d="M602.17 318.6V347.3M597.17 318.6H607.17M597.17 347.3H607.17"/>
<path d="M631.90 338.6V383.7M626.90 338.6H636.90M626.90 383.7H636.90"/>
</g>
<circle cx="78.53" cy="61.00" r="5" fill="#000"/>
<circle cx="108.27" cy="84.30" r="5" fill="#000"/>
<circle cx="137.24" cy="95.20" r="5" fill="#000"/>
<circle cx="177.31" cy="85.60" r="5" fill="#000"/>
<circle cx="207.05" cy="83.40" r="5" fill="#000"/>
<circle cx="236.78" cy="96.90" r="5" fill="#000"/>
<circle cx="276.09" cy="125.50" r="5" fill="#000"/>
<circle cx="305.83" cy="149.20" r="5" fill="#000"/>
<circle cx="335.56" cy="170.90" r="5" fill="#000"/>
<circle cx="374.87" cy="195.30" r="5" fill="#000"/>
<circle cx="404.61" cy="213.10" r="5" fill="#000"/>
<circle cx="434.34" cy="228.30" r="5" fill="#000"/>
<circle cx="473.65" cy="258.80" r="5" fill="#000"/>
<circle cx="503.39" cy="274.60" r="5" fill="#000"/>
<circle cx="533.12" cy="289.40" r="5" fill="#000"/>
<circle cx="572.43" cy="307.70" r="5" fill="#000"/>
<circle cx="602.17" cy="336.40" r="5" fill="#000"/>
<circle cx="631.90" cy="369.50" r="5" fill="#000"/>
<line x1="78.53" y1="4.75" x2="631.90" y2="355.86" stroke="#f20d14" stroke-width="2.5"/>
</g>
<rect x="78.3" y="0.8" width="593.55" height="436.05" fill="none" stroke="#000" stroke-width="2.1"/>
<g stroke="#000" stroke-width="1.85" fill="none">
<line x1="78.30" y1="436.85" x2="78.30" y2="446.05"/>
<line x1="78.30" y1="0.8" x2="78.30" y2="10.0"/>
<line x1="108.27" y1="436.85" x2="108.27" y2="441.85"/>
<line x1="108.27" y1="0.8" x2="108.27" y2="5.8"/>
<line x1="125.66" y1="436.85" x2="125.66" y2="441.85"/>
<line x1="125.66" y1="0.8" x2="125.66" y2="5.8"/>
<line x1="138.00" y1="436.85" x2="138.00" y2="441.85"/>
<line x1="138.00" y1="0.8" x2="138.00" y2="5.8"/>
<line x1="147.57" y1="436.85" x2="147.57" y2="441.85"/>
<line x1="147.57" y1="0.8" x2="147.57" y2="5.8"/>
<line x1="155.40" y1="436.85" x2="155.40" y2="441.85"/>
<line x1="155.40" y1="0.8" x2="155.40" y2="5.8"/>
<line x1="162.01" y1="436.85" x2="162.01" y2="441.85"/>
<line x1="162.01" y1="0.8" x2="162.01" y2="5.8"/>
<line x1="167.74" y1="436.85" x2="167.74" y2="441.85"/>
<line x1="167.74" y1="0.8" x2="167.74" y2="5.8"/>
<line x1="172.79" y1="436.85" x2="172.79" y2="441.85"/>
<line x1="172.79" y1="0.8" x2="172.79" y2="5.8"/>
<line x1="177.31" y1="436.85" x2="177.31" y2="446.05"/>
<line x1="177.31" y1="0.8" x2="177.31" y2="10.0"/>
<line x1="207.05" y1="436.85" x2="207.05" y2="441.85"/>
<line x1="207.05" y1="0.8" x2="207.05" y2="5.8"/>
<line x1="224.44" y1="436.85" x2="224.44" y2="441.85"/>
<line x1="224.44" y1="0.8" x2="224.44" y2="5.8"/>
<line x1="236.78" y1="436.85" x2="236.78" y2="441.85"/>
<line x1="236.78" y1="0.8" x2="236.78" y2="5.8"/>
<line x1="246.35" y1="436.85" x2="246.35" y2="441.85"/>
<line x1="246.35" y1="0.8" x2="246.35" y2="5.8"/>
<line x1="254.18" y1="436.85" x2="254.18" y2="441.85"/>
<line x1="254.18" y1="0.8" x2="254.18" y2="5.8"/>
<line x1="260.79" y1="436.85" x2="260.79" y2="441.85"/>
<line x1="260.79" y1="0.8" x2="260.79" y2="5.8"/>
<line x1="266.52" y1="436.85" x2="266.52" y2="441.85"/>
<line x1="266.52" y1="0.8" x2="266.52" y2="5.8"/>
<line x1="271.57" y1="436.85" x2="271.57" y2="441.85"/>
<line x1="271.57" y1="0.8" x2="271.57" y2="5.8"/>
<line x1="276.09" y1="436.85" x2="276.09" y2="446.05"/>
<line x1="276.09" y1="0.8" x2="276.09" y2="10.0"/>
<line x1="305.83" y1="436.85" x2="305.83" y2="441.85"/>
<line x1="305.83" y1="0.8" x2="305.83" y2="5.8"/>
<line x1="323.22" y1="436.85" x2="323.22" y2="441.85"/>
<line x1="323.22" y1="0.8" x2="323.22" y2="5.8"/>
<line x1="335.56" y1="436.85" x2="335.56" y2="441.85"/>
<line x1="335.56" y1="0.8" x2="335.56" y2="5.8"/>
<line x1="345.13" y1="436.85" x2="345.13" y2="441.85"/>
<line x1="345.13" y1="0.8" x2="345.13" y2="5.8"/>
<line x1="352.96" y1="436.85" x2="352.96" y2="441.85"/>
<line x1="352.96" y1="0.8" x2="352.96" y2="5.8"/>
<line x1="359.57" y1="436.85" x2="359.57" y2="441.85"/>
<line x1="359.57" y1="0.8" x2="359.57" y2="5.8"/>
<line x1="365.30" y1="436.85" x2="365.30" y2="441.85"/>
<line x1="365.30" y1="0.8" x2="365.30" y2="5.8"/>
<line x1="370.35" y1="436.85" x2="370.35" y2="441.85"/>
<line x1="370.35" y1="0.8" x2="370.35" y2="5.8"/>
<line x1="374.87" y1="436.85" x2="374.87" y2="446.05"/>
<line x1="374.87" y1="0.8" x2="374.87" y2="10.0"/>
<line x1="404.61" y1="436.85" x2="404.61" y2="441.85"/>
<line x1="404.61" y1="0.8" x2="404.61" y2="5.8"/>
<line x1="422.00" y1="436.85" x2="422.00" y2="441.85"/>
<line x1="422.00" y1="0.8" x2="422.00" y2="5.8"/>
<line x1="434.34" y1="436.85" x2="434.34" y2="441.85"/>
<line x1="434.34" y1="0.8" x2="434.34" y2="5.8"/>
<line x1="443.91" y1="436.85" x2="443.91" y2="441.85"/>
<line x1="443.91" y1="0.8" x2="443.91" y2="5.8"/>
<line x1="451.74" y1="436.85" x2="451.74" y2="441.85"/>
<line x1="451.74" y1="0.8" x2="451.74" y2="5.8"/>
<line x1="458.35" y1="436.85" x2="458.35" y2="441.85"/>
<line x1="458.35" y1="0.8" x2="458.35" y2="5.8"/>
<line x1="464.08" y1="436.85" x2="464.08" y2="441.85"/>
<line x1="464.08" y1="0.8" x2="464.08" y2="5.8"/>
<line x1="469.13" y1="436.85" x2="469.13" y2="441.85"/>
<line x1="469.13" y1="0.8" x2="469.13" y2="5.8"/>
<line x1="473.65" y1="436.85" x2="473.65" y2="446.05"/>
<line x1="473.65" y1="0.8" x2="473.65" y2="10.0"/>
<line x1="503.39" y1="436.85" x2="503.39" y2="441.85"/>
<line x1="503.39" y1="0.8" x2="503.39" y2="5.8"/>
<line x1="520.78" y1="436.85" x2="520.78" y2="441.85"/>
<line x1="520.78" y1="0.8" x2="520.78" y2="5.8"/>
<line x1="533.12" y1="436.85" x2="533.12" y2="441.85"/>
<line x1="533.12" y1="0.8" x2="533.12" y2="5.8"/>
<line x1="542.69" y1="436.85" x2="542.69" y2="441.85"/>
<line x1="542.69" y1="0.8" x2="542.69" y2="5.8"/>
<line x1="550.52" y1="436.85" x2="550.52" y2="441.85"/>
<line x1="550.52" y1="0.8" x2="550.52" y2="5.8"/>
<line x1="557.13" y1="436.85" x2="557.13" y2="441.85"/>
<line x1="557.13" y1="0.8" x2="557.13" y2="5.8"/>
<line x1="562.86" y1="436.85" x2="562.86" y2="441.85"/>
<line x1="562.86" y1="0.8" x2="562.86" y2="5.8"/>
<line x1="567.91" y1="436.85" x2="567.91" y2="441.85"/>
<line x1="567.91" y1="0.8" x2="567.91" y2="5.8"/>
<line x1="572.43" y1="436.85" x2="572.43" y2="446.05"/>
<line x1="572.43" y1="0.8" x2="572.43" y2="10.0"/>
<line x1="602.17" y1="436.85" x2="602.17" y2="441.85"/>
<line x1="602.17" y1="0.8" x2="602.17" y2="5.8"/>
<line x1="619.56" y1="436.85" x2="619.56" y2="441.85"/>
<line x1="619.56" y1="0.8" x2="619.56" y2="5.8"/>
<line x1="631.90" y1="436.85" x2="631.90" y2="441.85"/>
<line x1="631.90" y1="0.8" x2="631.90" y2="5.8"/>
<line x1="641.47" y1="436.85" x2="641.47" y2="441.85"/>
<line x1="641.47" y1="0.8" x2="641.47" y2="5.8"/>
<line x1="649.30" y1="436.85" x2="649.30" y2="441.85"/>
<line x1="649.30" y1="0.8" x2="649.30" y2="5.8"/>
<line x1="655.91" y1="436.85" x2="655.91" y2="441.85"/>
<line x1="655.91" y1="0.8" x2="655.91" y2="5.8"/>
<line x1="661.64" y1="436.85" x2="661.64" y2="441.85"/>
<line x1="661.64" y1="0.8" x2="661.64" y2="5.8"/>
<line x1="666.69" y1="436.85" x2="666.69" y2="441.85"/>
<line x1="666.69" y1="0.8" x2="666.69" y2="5.8"/>
<line x1="671.85" y1="436.85" x2="671.85" y2="446.05"/>
<line x1="671.85" y1="0.8" x2="671.85" y2="10.0"/>
<line x1="78.3" y1="436.85" x2="69.1" y2="436.85"/>
<line x1="671.85" y1="436.85" x2="662.65" y2="436.85"/>
<line x1="78.3" y1="399.12" x2="73.3" y2="399.12"/>
<line x1="671.85" y1="399.12" x2="666.85" y2="399.12"/>
<line x1="78.3" y1="377.04" x2="73.3" y2="377.04"/>
<line x1="671.85" y1="377.04" x2="666.85" y2="377.04"/>
<line x1="78.3" y1="361.38" x2="73.3" y2="361.38"/>
<line x1="671.85" y1="361.38" x2="666.85" y2="361.38"/>
<line x1="78.3" y1="349.23" x2="73.3" y2="349.23"/>
<line x1="671.85" y1="349.23" x2="666.85" y2="349.23"/>
<line x1="78.3" y1="339.31" x2="73.3" y2="339.31"/>
<line x1="671.85" y1="339.31" x2="666.85" y2="339.31"/>
<line x1="78.3" y1="330.92" x2="73.3" y2="330.92"/>
<line x1="671.85" y1="330.92" x2="666.85" y2="330.92"/>
<line x1="78.3" y1="323.65" x2="73.3" y2="323.65"/>
<line x1="671.85" y1="323.65" x2="666.85" y2="323.65"/>
<line x1="78.3" y1="317.24" x2="73.3" y2="317.24"/>
<line x1="671.85" y1="317.24" x2="666.85" y2="317.24"/>
<line x1="78.3" y1="311.50" x2="69.1" y2="311.50"/>
<line x1="671.85" y1="311.50" x2="662.65" y2="311.50"/>
<line x1="78.3" y1="273.77" x2="73.3" y2="273.77"/>
<line x1="671.85" y1="273.77" x2="666.85" y2="273.77"/>
<line x1="78.3" y1="251.69" x2="73.3" y2="251.69"/>
<line x1="671.85" y1="251.69" x2="666.85" y2="251.69"/>
<line x1="78.3" y1="236.03" x2="73.3" y2="236.03"/>
<line x1="671.85" y1="236.03" x2="666.85" y2="236.03"/>
<line x1="78.3" y1="223.88" x2="73.3" y2="223.88"/>
<line x1="671.85" y1="223.88" x2="666.85" y2="223.88"/>
<line x1="78.3" y1="213.96" x2="73.3" y2="213.96"/>
<line x1="671.85" y1="213.96" x2="666.85" y2="213.96"/>
<line x1="78.3" y1="205.57" x2="73.3" y2="205.57"/>
<line x1="671.85" y1="205.57" x2="666.85" y2="205.57"/>
<line x1="78.3" y1="198.30" x2="73.3" y2="198.30"/>
<line x1="671.85" y1="198.30" x2="666.85" y2="198.30"/>
<line x1="78.3" y1="191.89" x2="73.3" y2="191.89"/>
<line x1="671.85" y1="191.89" x2="666.85" y2="191.89"/>
<line x1="78.3" y1="186.15" x2="69.1" y2="186.15"/>
<line x1="671.85" y1="186.15" x2="662.65" y2="186.15"/>
<line x1="78.3" y1="148.42" x2="73.3" y2="148.42"/>
<line x1="671.85" y1="148.42" x2="666.85" y2="148.42"/>
<line x1="78.3" y1="126.34" x2="73.3" y2="126.34"/>
<line x1="671.85" y1="126.34" x2="666.85" y2="126.34"/>
<line x1="78.3" y1="110.68" x2="73.3" y2="110.68"/>
<line x1="671.85" y1="110.68" x2="666.85" y2="110.68"/>
<line x1="78.3" y1="98.53" x2="73.3" y2="98.53"/>
<line x1="671.85" y1="98.53" x2="666.85" y2="98.53"/>
<line x1="78.3" y1="88.61" x2="73.3" y2="88.61"/>
<line x1="671.85" y1="88.61" x2="666.85" y2="88.61"/>
<line x1="78.3" y1="80.22" x2="73.3" y2="80.22"/>
<line x1="671.85" y1="80.22" x2="666.85" y2="80.22"/>
<line x1="78.3" y1="72.95" x2="73.3" y2="72.95"/>
<line x1="671.85" y1="72.95" x2="666.85" y2="72.95"/>
<line x1="78.3" y1="66.54" x2="73.3" y2="66.54"/>
<line x1="671.85" y1="66.54" x2="666.85" y2="66.54"/>
<line x1="78.3" y1="60.80" x2="69.1" y2="60.80"/>
<line x1="671.85" y1="60.80" x2="662.65" y2="60.80"/>
<line x1="78.3" y1="23.07" x2="73.3" y2="23.07"/>
<line x1="671.85" y1="23.07" x2="666.85" y2="23.07"/>
<line x1="78.3" y1="0.99" x2="73.3" y2="0.99"/>
<line x1="671.85" y1="0.99" x2="666.85" y2="0.99"/>
</g>
<text x="63.73" y="469.6" font-size="19.2">10<tspan font-size="11.6" dy="-8.9">0</tspan></text>
<text x="162.51" y="469.6" font-size="19.2">10<tspan font-size="11.6" dy="-8.9">1</tspan></text>
<text x="261.29" y="469.6" font-size="19.2">10<tspan font-size="11.6" dy="-8.9">2</tspan></text>
<text x="360.07" y="469.6" font-size="19.2">10<tspan font-size="11.6" dy="-8.9">3</tspan></text>
<text x="458.85" y="469.6" font-size="19.2">10<tspan font-size="11.6" dy="-8.9">4</tspan></text>
<text x="557.63" y="469.6" font-size="19.2">10<tspan font-size="11.6" dy="-8.9">5</tspan></text>
<text x="656.41" y="469.6" font-size="19.2">10<tspan font-size="11.6" dy="-8.9">6</tspan></text>
<text x="26.0" y="443.65" font-size="19.2">10<tspan font-size="11.6" dy="-9.2">-16</tspan></text>
<text x="26.0" y="318.30" font-size="19.2">10<tspan font-size="11.6" dy="-9.2">-15</tspan></text>
<text x="26.0" y="192.95" font-size="19.2">10<tspan font-size="11.6" dy="-9.2">-14</tspan></text>
<text x="26.0" y="67.60" font-size="19.2">10<tspan font-size="11.6" dy="-9.2">-13</tspan></text>
<text x="286.7" y="492.2" font-size="23.3" letter-spacing="0.15">Averaging Time (s)</text>
<text transform="translate(18.6 296.2) rotate(-90)" font-size="23.3" letter-spacing="0.15">Allan Deviation</text>
<rect x="349.7" y="9.5" width="313" height="60.3" fill="#fff" stroke="#222" stroke-width="1.1"/>
<line x1="356.3" y1="28.2" x2="405.8" y2="28.2" stroke="#000" stroke-width="1.3"/>
<circle cx="381.2" cy="28.2" r="4.8" fill="#000"/>
<line x1="356.3" y1="57.1" x2="405.8" y2="57.1" stroke="#f20d14" stroke-width="2.3"/>
<text x="410.4" y="35.7" font-size="20.2" letter-spacing="0.08">Measured stability</text>
<text x="410.4" y="64.6" font-size="20.2" letter-spacing="0.03">Fitting line of 2.8x10<tspan font-size="11.8" dy="-8.3" letter-spacing="0.35">-13</tspan><tspan dy="8.3" dx="-1.0">/</tspan><tspan font-family="Liberation Serif" font-style="italic" font-size="22.5" dx="-0.6">τ</tspan><tspan font-size="11.8" dy="-8.5" dx="0.2" letter-spacing="0.3">1/2</tspan></text>
</svg></body></html>
